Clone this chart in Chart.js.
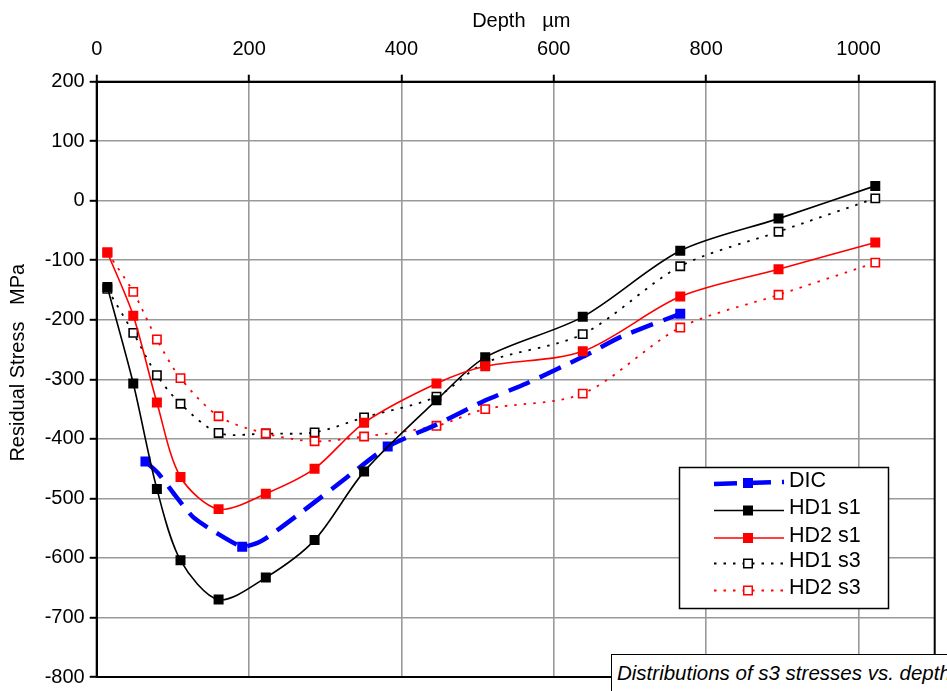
<!DOCTYPE html>
<html><head><meta charset="utf-8">
<script src="https://cdn.jsdelivr.net/npm/chart.js@4"></script>
<style>
html,body{margin:0;padding:0;background:#fff;overflow:hidden;width:947px;height:691px}
#wrap{position:relative;width:947px;height:691px;overflow:hidden}
#caption{position:absolute;left:611px;top:654px;width:400px;height:60px;background:#fff;border:1.5px solid #000;box-sizing:border-box;
font:italic 20.5px "Liberation Sans",Arial,sans-serif;color:#000;padding:6px 0 0 5px;white-space:nowrap}
</style></head><body>
<div id="wrap"><canvas id="c" width="947" height="691"></canvas>
<div id="caption">Distributions of s3 stresses vs. depth</div></div>
<script>
const depthHD = [14,48,79,110,160,222,286,351,446,510,638,766,895,1022];
const hd1s1 = [-145,-307,-484,-604,-670,-633,-570,-455,-335,-263,-195,-84,-30,25];
const hd2s1 = [-87,-193,-339,-464,-518,-492,-450,-373,-307,-278,-253,-161,-115,-70];
const hd1s3 = [-148,-222,-293,-341,-390,-391,-389,-364,-329,-272,-224,-110,-52,4];
const hd2s3 = [-87,-153,-233,-298,-362,-391,-404,-396,-378,-350,-324,-213,-158,-104];
const depthDIC = [64,81,103,127,156,191,217,271,326,382,446,509,564,638,689,766];
const dic = [-438,-458,-495,-532,-557,-581,-571,-521,-467,-413,-376,-336,-307,-262,-228,-190];
const dicMarked = [64,191,382,766];
const seriesNames = ['DIC','HD1 s1','HD2 s1','HD1 s3','HD2 s3'];
const toXY = (xs,ys)=>xs.map((x,i)=>({x,y:ys[i]}));
const SQ = 7.07, HS = 5.87;
const datasets = [
 {label:seriesNames[0],data:toXY(depthDIC,dic),borderColor:'#0000ff',backgroundColor:'#0000ff',borderWidth:4.5,borderDash:[23,11],tension:0.2,
  pointStyle:'rect',pointRadius:c=>dicMarked.includes(depthDIC[c.dataIndex])?SQ:0,pointBorderWidth:0,order:3},
 {label:seriesNames[1],data:toXY(depthHD,hd1s1),borderColor:'#000',backgroundColor:'#000',borderWidth:1.6,tension:0.3,pointStyle:'rect',pointRadius:SQ,pointBorderWidth:0,order:2},
 {label:seriesNames[2],data:toXY(depthHD,hd2s1),borderColor:'#ff0000',backgroundColor:'#ff0000',borderWidth:1.6,tension:0.3,pointStyle:'rect',pointRadius:SQ,pointBorderWidth:0,order:1},
 {label:seriesNames[3],data:toXY(depthHD,hd1s3),borderColor:'#000',backgroundColor:'#fff',borderWidth:1.8,borderDash:[2.5,7],tension:0.3,pointStyle:'rect',pointRadius:HS,pointBorderWidth:1.6,order:5},
 {label:seriesNames[4],data:toXY(depthHD,hd2s3),borderColor:'#ff0000',backgroundColor:'#fff',borderWidth:1.8,borderDash:[2.5,7],tension:0.3,pointStyle:'rect',pointRadius:HS,pointBorderWidth:1.6,order:4}
];
const FONT = {family:'"Liberation Sans",Arial,sans-serif',size:20};
const frame = {id:'frame',
 beforeDatasetsDraw(ch){const a=ch.chartArea,g=ch.ctx;g.save();g.strokeStyle='#000';g.lineWidth=2;
  g.strokeRect(a.left,a.top,a.right-a.left,a.bottom-a.top);g.restore();},
 afterDatasetsDraw(ch){
  const g=ch.ctx;g.save();
  g.fillStyle='#fff';g.strokeStyle='#000';g.lineWidth=1.5;
  g.fillRect(679.5,467.5,209,141);g.strokeRect(679.5,467.5,209,141);
  const rows=[481,508.5,536,561.5,588.5];
  g.textBaseline='middle';g.font='21.5px "Liberation Sans",Arial,sans-serif';
  datasets.forEach((d,i)=>{
    const y=rows[i];
    const my=y+2;
    g.save();g.strokeStyle=d.borderColor;g.lineWidth=d.borderWidth;
    g.setLineDash(d.borderDash||[]);
    g.beginPath();g.moveTo(714,i===0?my+1:my);g.lineTo(784,i===0?my-1:my);g.stroke();g.restore();
    const s=i<3?10:8.5;
    g.setLineDash([]);
    if(i<3){g.fillStyle=d.backgroundColor;g.fillRect(748-s/2,my-s/2,s,s);}
    else{g.fillStyle='#fff';g.fillRect(748-s/2,my-s/2,s,s);g.strokeStyle=d.borderColor;g.lineWidth=1.5;g.strokeRect(748-s/2,my-s/2,s,s);}
    g.fillStyle='#000';g.fillText(d.label,789,y);
  });
  g.restore();
 }};
new Chart(document.getElementById('c'),{type:'line',data:{datasets},plugins:[frame],
 options:{responsive:false,animation:false,devicePixelRatio:1,
  layout:{padding:{top:0,left:0,right:12.3,bottom:14}},
  plugins:{legend:{display:false},title:{display:false},tooltip:{enabled:false}},
  scales:{
   x:{type:'linear',position:'top',min:0,max:1100,
    afterFit(s){s.height=81.7;s.paddingLeft=0;s.paddingRight=0;},
    ticks:{stepSize:200,includeBounds:false,maxRotation:0,color:'#000',font:FONT,padding:13,callback:v=>String(v)},
    grid:{color:'#999',lineWidth:1.6,tickLength:7,tickColor:'#000',tickWidth:2},
    border:{color:'#000',width:2},
    title:{display:true,text:'  Depth   \u00b5m',color:'#000',font:{family:FONT.family,size:20},padding:{top:9,bottom:2}}},
   y:{type:'linear',position:'left',min:-800,max:200,
    afterFit(s){s.width=96.7;s.paddingTop=0;s.paddingBottom=0;},
    ticks:{stepSize:100,color:'#000',font:FONT,padding:5,callback:v=>String(v)},
    grid:{color:'#999',lineWidth:1.6,tickLength:7,tickColor:'#000',tickWidth:2},
    border:{color:'#000',width:2},
    title:{display:true,text:'      Residual Stress   MPa',color:'#000',font:{family:FONT.family,size:20},padding:{top:6,bottom:0}}}
  }}});
</script></body></html>
